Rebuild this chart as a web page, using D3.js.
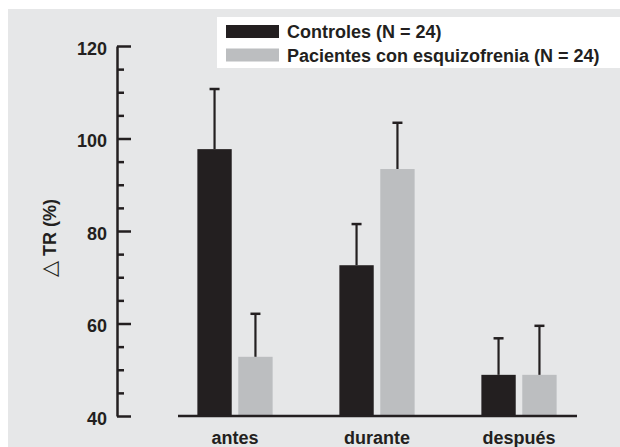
<!DOCTYPE html>
<html>
<head>
<meta charset="utf-8">
<script src="https://cdn.jsdelivr.net/npm/d3@7"></script>
<style>
  html, body { margin: 0; padding: 0; background: #fff; }
  svg { display: block; }
  text { font-family: "Liberation Sans", Arial, Helvetica, sans-serif; font-weight: bold; fill: #231f20; }
</style>
</head>
<body>
<svg id="chart" width="620" height="447"></svg>
<script>
// data
const categories = ['antes', 'durante', 'después'];
const seriesNames = ['Controles (N = 24)', 'Pacientes con esquizofrenia (N = 24)'];
const controles = [97.7, 72.6, 48.9];
const controlesErr = [13.0, 8.9, 7.9];
const pacientes = [52.8, 93.4, 48.9];
const pacientesErr = [9.3, 10.0, 10.6];
const majorTicks = [40, 60, 80, 100, 120];

const ink = '#231f20';
const colors = ['#231f20', '#bcbec0'];
const fontSize = 18;

const svg = d3.select('#chart');

// gray panel
svg.append('rect')
    .attr('x', 8).attr('y', 9)
    .attr('width', 612).attr('height', 438)
    .attr('fill', '#e6e7e8');

const y = d3.scaleLinear().domain([40, 120]).range([416, 46]);

const x0 = d3.scaleBand()
    .domain(categories)
    .range([164, 590])
    .paddingInner(0.47)
    .paddingOuter(0.235);

const x1 = d3.scaleBand()
    .domain(seriesNames)
    .range([0, x0.bandwidth()])
    .paddingInner(0.16);

const rows = categories.map((c, i) => ({
    cat: c,
    vals: [
        { s: seriesNames[0], v: controles[i], e: controlesErr[i], color: colors[0] },
        { s: seriesNames[1], v: pacientes[i], e: pacientesErr[i], color: colors[1] }
    ]
}));

// minor ticks every 5
const minorTicks = d3.range(45, 120, 5).filter(v => v % 20 !== 0);
svg.append('g')
    .attr('transform', 'translate(117,0)')
    .call(d3.axisLeft(y).tickValues(minorTicks).tickSizeInner(-7).tickSizeOuter(0).tickFormat(''))
    .call(g => g.select('.domain').remove())
    .call(g => g.selectAll('line').attr('stroke', ink).attr('stroke-width', 2.5));

const yAxis = svg.append('g')
    .attr('transform', 'translate(117,0)')
    .call(d3.axisLeft(y).tickValues(majorTicks).tickSizeInner(-14).tickSizeOuter(0).tickPadding(10));
yAxis.select('.domain').attr('stroke', ink).attr('stroke-width', 2.5);
yAxis.selectAll('line').attr('stroke', ink).attr('stroke-width', 2.5);
yAxis.selectAll('text')
    .attr('font-size', fontSize)
    .attr('dy', '0.45em')
    .style('font-family', '"Liberation Sans", Arial, sans-serif')
    .style('font-weight', 'bold')
    .attr('fill', ink);

// y title
const yTitle = svg.append('text')
    .attr('transform', 'translate(56,238) rotate(-90)')
    .attr('text-anchor', 'middle')
    .attr('font-size', fontSize);
yTitle.append('tspan')
    .style('font-family', '"DejaVu Sans", sans-serif')
    .style('font-weight', 'normal')
    .attr('font-size', 21)
    .text('△');
yTitle.append('tspan').text(' TR (%)');

// bars
const groups = svg.append('g').selectAll('g')
    .data(rows)
    .join('g')
    .attr('transform', d => `translate(${x0(d.cat)},0)`);

groups.selectAll('rect')
    .data(d => d.vals)
    .join('rect')
    .attr('x', d => x1(d.s))
    .attr('y', d => y(d.v))
    .attr('width', x1.bandwidth())
    .attr('height', d => y(40) - y(d.v))
    .attr('fill', d => d.color);

// error bars (upper only)
const errs = groups.selectAll('g.err')
    .data(d => d.vals)
    .join('g')
    .attr('class', 'err');
errs.append('line')
    .attr('x1', d => x1(d.s) + x1.bandwidth() / 2)
    .attr('x2', d => x1(d.s) + x1.bandwidth() / 2)
    .attr('y1', d => y(d.v))
    .attr('y2', d => y(d.v + d.e))
    .attr('stroke', ink)
    .attr('stroke-width', 2.2);
errs.append('line')
    .attr('x1', d => x1(d.s) + x1.bandwidth() / 2 - 5)
    .attr('x2', d => x1(d.s) + x1.bandwidth() / 2 + 5)
    .attr('y1', d => y(d.v + d.e))
    .attr('y2', d => y(d.v + d.e))
    .attr('stroke', ink)
    .attr('stroke-width', 2.5);

// x baseline and labels
svg.append('line')
    .attr('x1', 178).attr('x2', 577)
    .attr('y1', y(40)).attr('y2', y(40))
    .attr('stroke', ink).attr('stroke-width', 2.5);

const xAxis = svg.append('g')
    .attr('transform', `translate(0,${y(40)})`)
    .call(d3.axisBottom(x0).tickSize(0).tickPadding(15));
xAxis.select('.domain').remove();
xAxis.selectAll('text')
    .attr('font-size', fontSize)
    .style('font-family', '"Liberation Sans", Arial, sans-serif')
    .style('font-weight', 'bold')
    .attr('fill', ink);

// legend
const legend = svg.append('g');
legend.append('rect')
    .attr('x', 217).attr('y', 17)
    .attr('width', 403).attr('height', 51)
    .attr('fill', '#fff');
const items = legend.selectAll('g.item')
    .data(seriesNames)
    .join('g')
    .attr('class', 'item')
    .attr('transform', (d, i) => `translate(226,${25 + i * 23.5})`);
items.append('rect')
    .attr('width', 53).attr('height', 13)
    .attr('fill', (d, i) => colors[i]);
items.append('text')
    .attr('x', 61).attr('y', 13)
    .attr('font-size', fontSize)
    .text(d => d);
</script>
</body>
</html>
